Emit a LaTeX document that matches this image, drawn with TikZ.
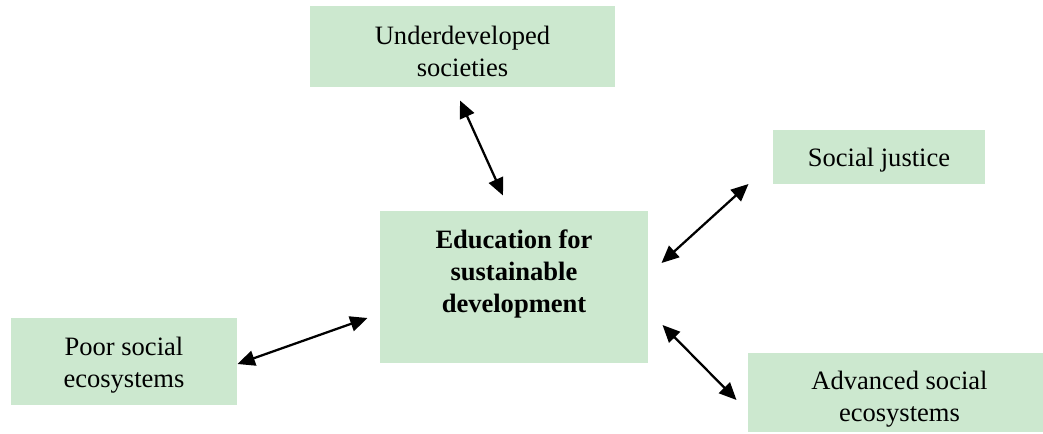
\documentclass[tikz,border=0pt]{standalone}
\usepackage{fontspec}
\setmainfont{Liberation Serif}
\usetikzlibrary{arrows.meta}

\tikzset{every picture/.style={line width=0.75pt}}
\definecolor{boxgreen}{RGB}{204,232,207}
\tikzset{
  topicbox/.style={fill=boxgreen, draw=none, inner sep=0pt},
  topictext/.style={align=center, inner sep=0pt, font=\fontsize{19.9}{24}\selectfont},
  biarrow/.style={line width=1.7pt, {Triangle[length=13pt,width=11.5pt]}-{Triangle[length=13pt,width=11.5pt]}}
}

\begin{document}
\begin{tikzpicture}[x=0.75pt,y=0.75pt,yscale=-1,xscale=1]
        \useasboundingbox (0,0) rectangle (1043,433);

        % Boxes
        \node [topicbox, minimum width=305*0.75pt, minimum height=81*0.75pt] (und) at (462.5,46.5) {};
        \node [topicbox, minimum width=212*0.75pt, minimum height=54*0.75pt] (sj) at (879,157) {};
        \node [topicbox, minimum width=268*0.75pt, minimum height=152*0.75pt] (esd) at (514,287) {};
        \node [topicbox, minimum width=226*0.75pt, minimum height=87*0.75pt] (poor) at (124,361.5) {};
        \node [topicbox, minimum width=295*0.75pt, minimum height=79*0.75pt] (adv) at (895.5,392.5) {};

        % Text Nodes
        \node [topictext] (und-text) at ([yshift=3.5]und.center) {Underdeveloped\\societies};
        \node [topictext] (sj-text) at ([yshift=2]sj.center) {Social justice};
        \node [topictext, font=\fontsize{19.9}{24}\selectfont\bfseries] (esd-text) at ([yshift=-10]esd.center) {Education for\\sustainable\\development};
        \node [topictext] (poor-text) at ([yshift=3]poor.center) {Poor social\\ecosystems};
        \node [topictext] (adv-text) at ([shift={(4,7)}]adv.center) {Advanced social\\ecosystems};

        % Arrows
        \draw [biarrow] ([shift={(-2.5,13)}]und.south) -- ([shift={(-11,-15)}]esd.north);
        \draw [biarrow] ([shift={(13,-24)}]esd.east) -- ([shift={(-24,27)}]sj.west);
        \draw [biarrow] ([shift={(14,38)}]esd.east) -- ([shift={(-11,7.5)}]adv.west);
        \draw [biarrow] ([shift={(0,2.5)}]poor.east) -- ([shift={(-12,31)}]esd.west);

\end{tikzpicture}
\end{document}
